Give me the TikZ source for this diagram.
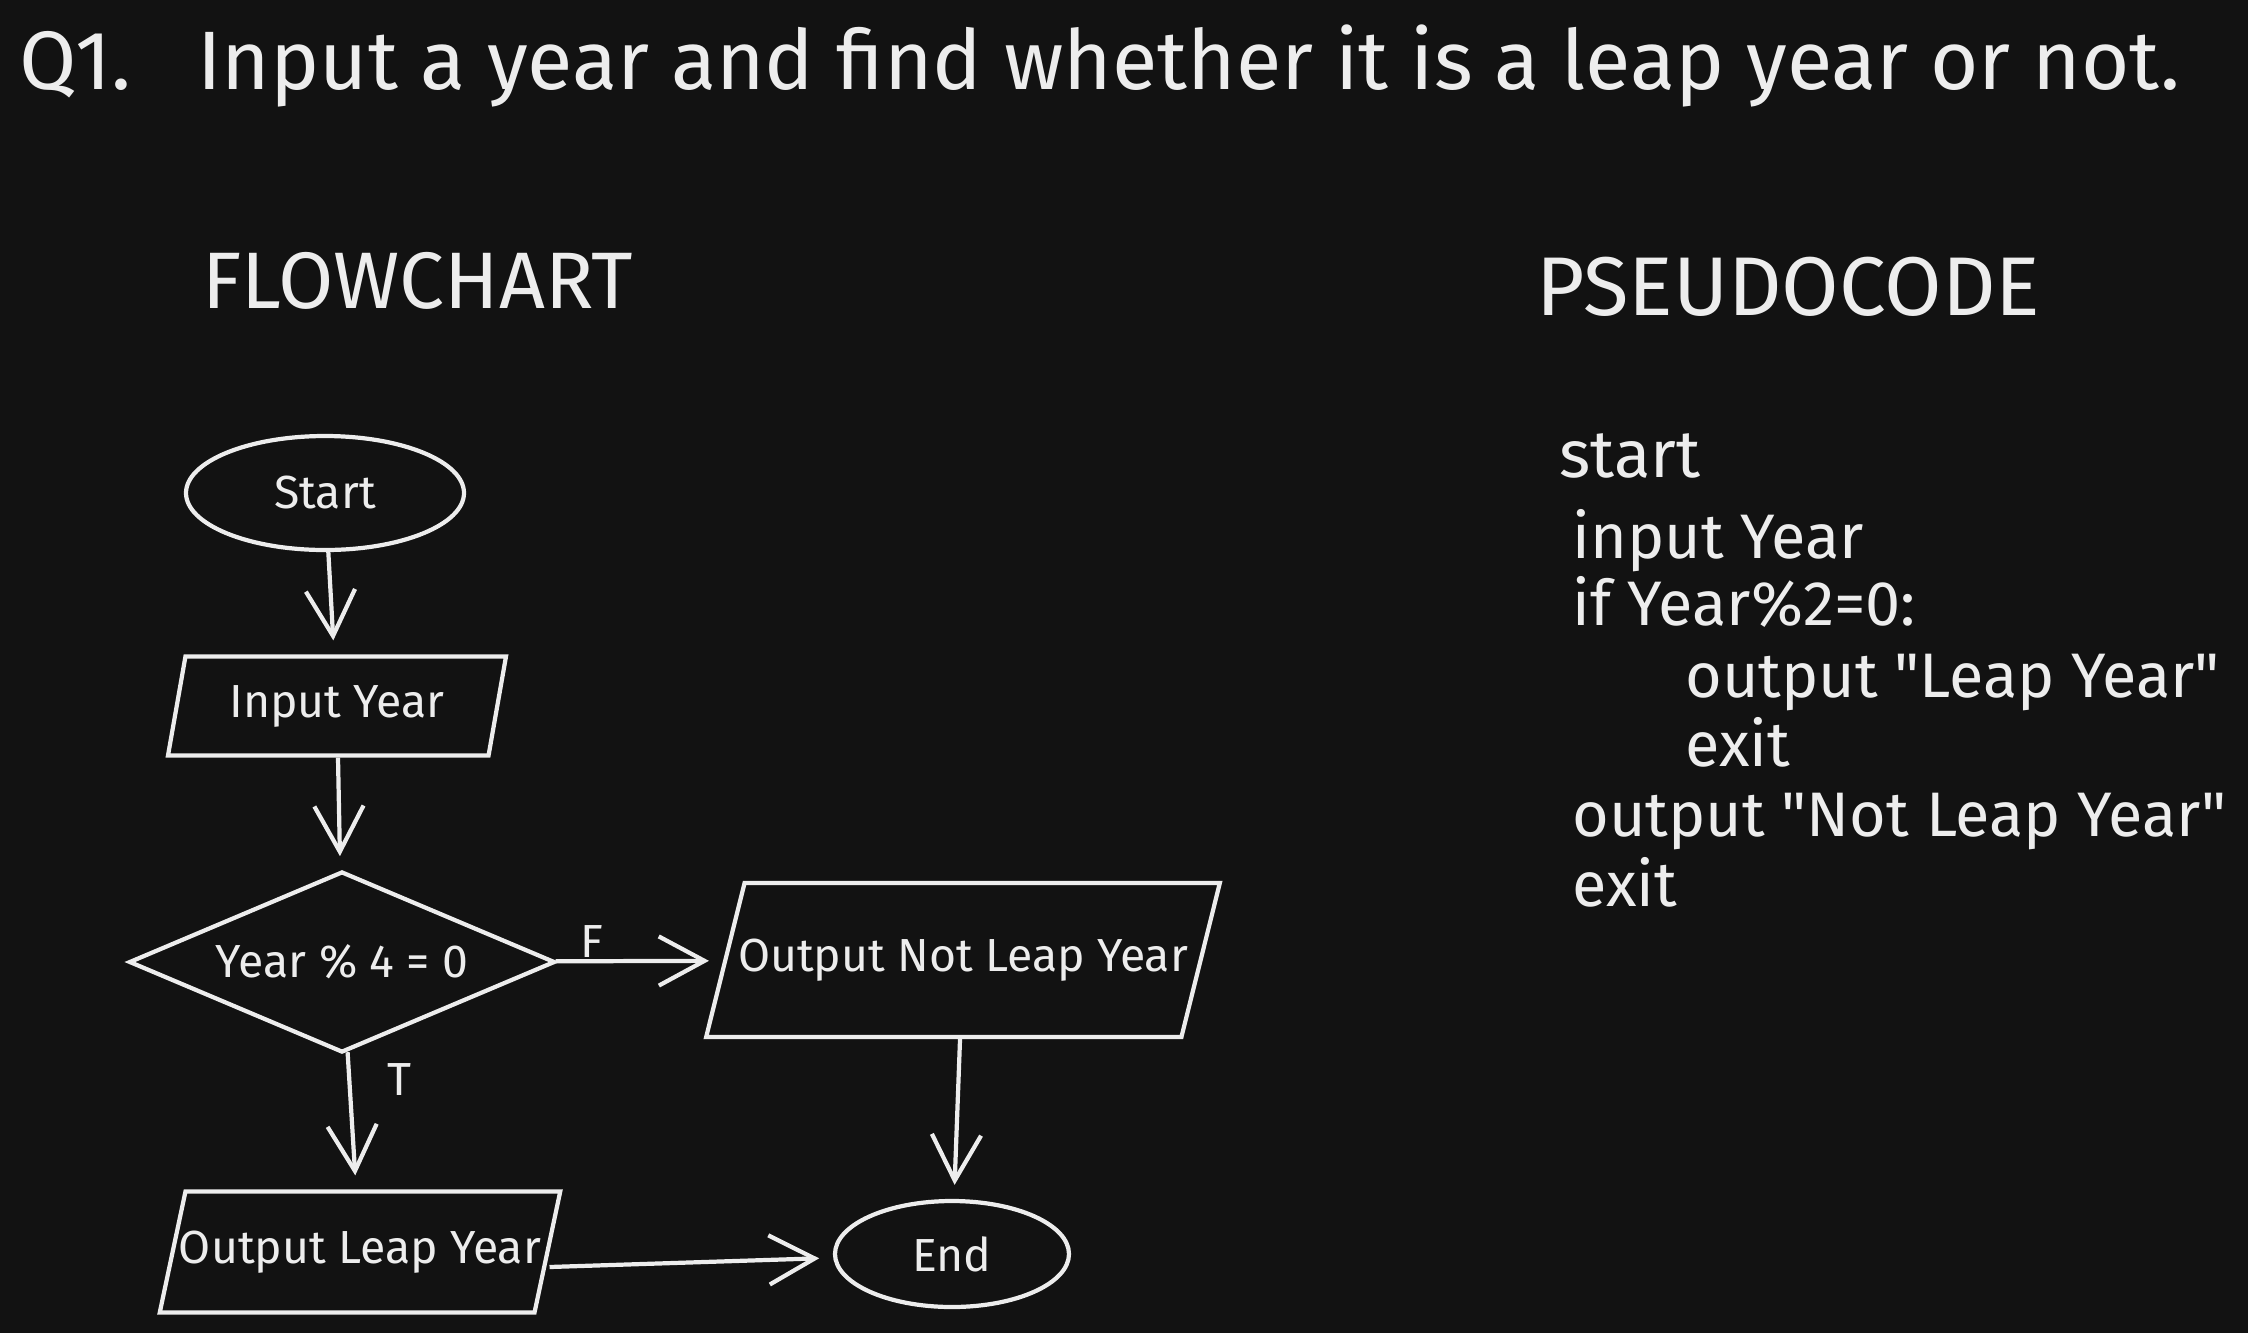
\documentclass[tikz,border=0pt]{standalone}
\usepackage{fontspec}
\setmainfont{Fira Sans}
\newfontfamily\codefont{Fira Sans}
\usetikzlibrary{arrows.meta,shapes.geometric}
\definecolor{board}{HTML}{121212}
\definecolor{chalk}{HTML}{EDEDED}

\begin{document}
\begin{tikzpicture}[>={Straight Barb[length=13pt,width=14pt]},flow/.style={->, draw=chalk, line width=1.2pt, shorten >=4pt},terminal/.style={draw=chalk, ellipse, line width=1.2pt, text=chalk, inner sep=0pt, font=\fontsize{13.2}{15}\selectfont},io/.style={draw=chalk, trapezium, trapezium stretches body=true, text height=0.35cm, text depth=0.12cm, inner xsep=-0.065cm, line width=1.2pt, text=chalk, font=\fontsize{13.2}{15}\selectfont},decision/.style={draw=chalk, diamond, aspect=2.35, line width=1.2pt, text=chalk, inner sep=0pt, font=\fontsize{13.2}{15}\selectfont},branch/.style={text=chalk, font=\fontsize{13.2}{15}\selectfont},heading/.style={text=chalk, anchor=base west, font=\fontsize{22.8}{26}\selectfont},code/.style={text=chalk, anchor=base west, font=\codefont\fontsize{17.9}{21}\selectfont}]
\fill[board] (0,0) rectangle (22.48,-13.33);
\node[heading, font=\fontsize{23.6}{28}\selectfont] (title) at (0.07,-0.89) {Q1.\ \ \ Input a year and find whether it is a leap year or not.};
\node[heading] (fchead) at (1.90,-3.08) {FLOWCHART};
\node[heading, font=\fontsize{23.7}{28}\selectfont] (pchead) at (15.24,-3.15) {PSEUDOCODE};
% flowchart
\node[terminal, minimum width=2.78cm, minimum height=1.14cm] (start) at (3.25,-4.93) {Start};
\node[io, minimum width=3.38cm, inner ysep=0.26cm, trapezium left angle=80, trapezium right angle=100] (input) at (3.37,-7.06) {Input Year};
\node[decision, minimum width=4.26cm, minimum height=1.81cm] (dec) at (3.42,-9.62) {Year \% 4 = 0};
\node[io, minimum width=5.05cm, inner ysep=0.535cm, trapezium left angle=76, trapezium right angle=104] (outno) at (9.63,-9.60) {Output Not Leap Year};
\node[io, minimum width=3.90cm, inner ysep=0.37cm, trapezium left angle=78, trapezium right angle=102] (outyes) at (3.60,-12.52) {Output Leap Year};
\node[terminal, minimum width=2.34cm, minimum height=1.06cm] (end) at (9.52,-12.54) {End};
\draw[flow] (start) -- (input);
\draw[flow] (input) -- (dec);
\draw[flow] (dec) -- (outno) node[branch, pos=0.22, above=-3pt] {F};
\draw[flow] (dec) -- (outyes) node[branch, pos=0.2, right=7pt] {T};
\draw[flow] (outno) -- (end);
\draw[flow] ([yshift=-0.15cm]outyes.east) -- (end);
% pseudocode
\node[code, font=\codefont\fontsize{19}{22}\selectfont] (p1) at (15.47,-4.77) {start};
\node[code] (p2) at (15.60,-5.58) {input Year};
\node[code] (p3) at (15.60,-6.25) {if Year\%2=0:};
\node[code] (p4) at (16.73,-6.97) {output "Leap Year"};
\node[code] (p5) at (16.73,-7.66) {exit};
\node[code] (p6) at (15.60,-8.36) {output "Not Leap Year"};
\node[code] (p7) at (15.60,-9.06) {exit};
\end{tikzpicture}
\end{document}
